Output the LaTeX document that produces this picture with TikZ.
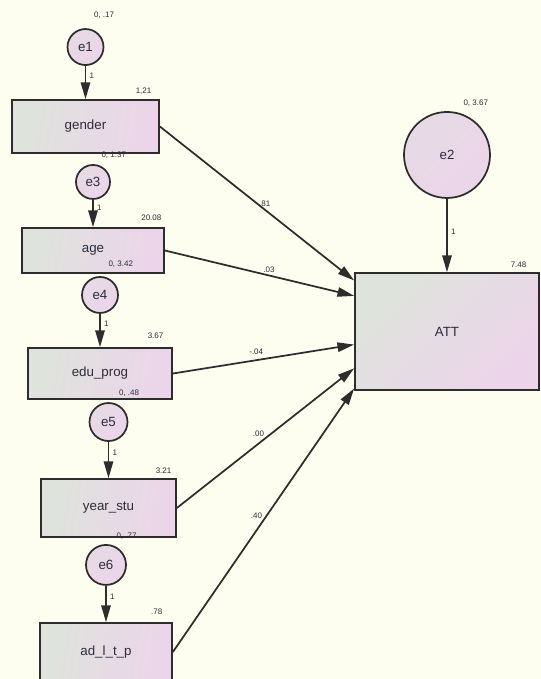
\documentclass[tikz,border=0pt]{standalone}
\usepackage{fontspec}
\setmainfont{Liberation Sans}
\usetikzlibrary{calc}
\usetikzlibrary{positioning}
\usetikzlibrary{arrows.meta}

\definecolor{paper}{RGB}{254,254,240}
\definecolor{semgrey}{RGB}{222,228,220}
\definecolor{sempink}{RGB}{236,212,234}
\definecolor{semline}{RGB}{45,45,45}
\definecolor{ink}{RGB}{45,45,60}

\begin{document}
\begin{tikzpicture}[x=0.75pt, y=0.75pt, line width=1.3pt, on grid,
        obs/.style={rectangle, draw=semline, left color=semgrey, right color=sempink,
            shading angle=80, text=ink, font=\fontsize{10}{12}\selectfont, inner sep=0pt},
        err/.style={circle, draw=semline, left color=semgrey!45!sempink, right color=sempink,
            shading angle=45, text=ink, font=\fontsize{10}{12}\selectfont, inner sep=0pt},
        est/.style={font=\fontsize{6}{7}\selectfont, text=ink, inner sep=0.5pt},
        effect/.style={semline, -{Triangle[length=12.5pt,width=7pt]}},]

    \fill[paper] (0,0) rectangle (541,-679);
    \useasboundingbox (0,0) rectangle (541,-679);

    % observed variables
    \node (gender) [obs, minimum width=110.25pt, minimum height=39.75pt] at (85.5,-126.5) {gender};
    \node (age) [obs, minimum width=106.5pt, minimum height=33.75pt] at (93,-250.5) {age};
    \node (eduprog) [obs, minimum width=108pt, minimum height=38.25pt] at (100,-373.5) {edu\_prog};
    \node (yearstu) [obs, minimum width=101.25pt, minimum height=43.5pt] at (108.5,-508) {year\_stu};
    \node (adltp) [obs, minimum width=99pt, minimum height=43.5pt] at (106,-652) {ad\_l\_t\_p};
    \node (ATT) [obs, shading angle=45, minimum width=138pt, minimum height=87.75pt] at (447,-331.5) {ATT};

    % error terms
    \node (e1) [err, minimum size=27pt, above=59.6pt of gender] {e1};
    \node (e3) [err, minimum size=25.5pt, above=51.4pt of age] {e3};
    \node (e4) [err, minimum size=27pt, above=58.9pt of eduprog] {e4};
    \node (e5) [err, minimum size=28.5pt, above=64.5pt of yearstu] {e5};
    \node (e6) [err, minimum size=30pt, above=65.3pt of adltp] {e6};
    \node (e2) [err, minimum size=64.5pt, above=132.4pt of ATT] {e2};

    \draw[effect] (e1) -- (gender) node[est, pos=.3, right=2pt] {1};
    \draw[effect] (e3) -- (age) node[est, pos=.3, right=2pt] {1};
    \draw[effect] (e4) -- (eduprog) node[est, pos=.3, right=2pt] {1};
    \draw[effect] (e5) -- (yearstu) node[est, pos=.3, right=2pt] {1};
    \draw[effect] (e6) -- (adltp) node[est, pos=.3, right=2pt] {1};
    \draw[effect] (e2) -- (ATT) node[est, pos=.45, right=2pt] {1};

    % paths to ATT
    \draw[effect] (gender.east) -- ($(ATT.north west)!.07!(ATT.south west)$)
        node[est, pos=.54, above=1pt] {.81};
    \draw[effect] (age.east) -- ($(ATT.north west)!.2!(ATT.south west)$)
        node[est, pos=.55, above=1pt] {.03};
    \draw[effect] (eduprog.east) -- ($(ATT.north west)!.61!(ATT.south west)$)
        node[est, pos=.46, above=3pt] {-.04};
    \draw[effect] (yearstu.east) -- ($(ATT.north west)!.81!(ATT.south west)$)
        node[est, pos=.5, anchor=south east] {.00};
    \draw[effect] (adltp.east) -- ($(ATT.north west)!.98!(ATT.south west)$)
        node[est, pos=.5, anchor=south east] {.40};

    % variances and intercepts
    \node (ve1) [est, anchor=south west] at ([shift={(7,8)}]e1.north) {0, .17};
    \node (ve3) [est, anchor=south west] at ([shift={(7,4)}]e3.north) {0, 1.37};
    \node (ve4) [est, anchor=south west] at ([shift={(7,7)}]e4.north) {0, 3.42};
    \node (ve5) [est, anchor=south west] at ([shift={(9,4)}]e5.north) {0, .48};
    \node (ve6) [est, anchor=south west] at ([shift={(9,3)}]e6.north) {0, .77};
    \node (ve2) [est, anchor=south west] at ([shift={(15,3)}]e2.north) {0, 3.67};

    \node (vgender) [est, anchor=south east] at ([shift={(-7,3)}]gender.north east) {1,21};
    \node (vage) [est, anchor=south east] at ([shift={(-2,5)}]age.north east) {20.08};
    \node (veduprog) [est, anchor=south east] at ([shift={(-8,7)}]eduprog.north east) {3.67};
    \node (vyearstu) [est, anchor=south east] at ([shift={(-4,3)}]yearstu.north east) {3.21};
    \node (vadltp) [est, anchor=south east] at ([shift={(-9,6)}]adltp.north east) {.78};
    \node (vATT) [est, anchor=south east] at ([shift={(-12,3)}]ATT.north east) {7.48};

\end{tikzpicture}
\end{document}
